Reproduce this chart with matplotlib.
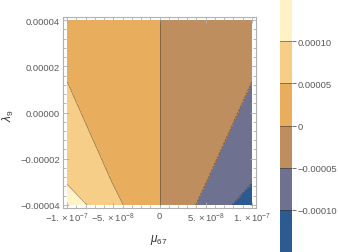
import numpy as np
import matplotlib
matplotlib.use("Agg")
import matplotlib.pyplot as plt
from matplotlib.ticker import MultipleLocator

plt.rcParams['font.family'] = ['Liberation Sans', 'DejaVu Sans']
plt.rcParams['mathtext.fontset'] = 'custom'
plt.rcParams['mathtext.rm'] = 'Liberation Sans'
plt.rcParams['mathtext.it'] = 'Liberation Sans:italic'

# grid nodes and values
mu = [-1e-7, 0.0, 1e-7]
lam = [-4e-5, -3e-5, 4e-5]
z = [[1.276e-4, 0.0, -1.276e-4],
     [9.67e-5, 0.0, -9.84e-5],
     [2.13e-5, 0.0, -2.02e-5]]

levels = [-1.5e-4, -1e-4, -5e-5, 0.0, 5e-5, 1e-4, 1.5e-4]
band_colors = ['#2b5b91', '#6e7190', '#bf8e5f', '#e9ad5e', '#f7ce87', '#fef2c6']

xticks = [-1e-7, -5e-8, 0.0, 5e-8, 1e-7]
xlabels = [r'$-1.\times10^{-7}$', r'$-5.\times10^{-8}$', '0',
           r'$5.\times10^{-8}$', r'$1.\times10^{-7}$']
yticks = [-4e-5, -2e-5, 0.0, 2e-5, 4e-5]
ylabels = ['\u22120.00004', '\u22120.00002', '0.00000', '0.00002', '0.00004']
cticks = [-1e-4, -5e-5, 0.0, 5e-5, 1e-4]
clabels = ['\u22120.00010', '\u22120.00005', '0', '0.00005', '0.00010']

grey = '#5a5a5a'
frame = '#b0b0b0'

fig = plt.figure(figsize=(3.38, 2.53), dpi=100)
ax = fig.add_axes([63/338, 44/253, 193/338, 191/253])

M, L = np.meshgrid(mu, lam)
Z = np.array(z)
cs = ax.contourf(M, L, Z, levels=levels, colors=band_colors)
ax.contour(M, L, Z, levels=levels[1:-1], colors='#3a2a1a', linewidths=0.5, alpha=0.6)

ax.set_xlim(-1.045e-7, 1.045e-7)
ax.set_ylim(-4.13e-5, 4.13e-5)
ax.set_xticks(xticks)
ax.set_xticklabels(xlabels, fontsize=6.8)
ax.set_yticks(yticks)
ax.set_yticklabels(ylabels, fontsize=6.8)
ax.xaxis.set_minor_locator(MultipleLocator(1e-8))
ax.yaxis.set_minor_locator(MultipleLocator(4e-6))
ax.tick_params(which='both', direction='in', top=True, right=True,
               color=frame, labelcolor=grey, width=0.6)
ax.tick_params(which='major', length=4, pad=2)
ax.tick_params(which='minor', length=2)
for s in ax.spines.values():
    s.set_color(frame)
    s.set_linewidth(0.8)

ax.set_xlabel(r'$\mu_{67}$', fontsize=8.5, color='#333333')
ax.xaxis.set_label_coords(0.497, -0.125)
ax.set_ylabel(r'$\lambda_{9}$', fontsize=8.5, color='#333333')
ax.yaxis.set_label_coords(-0.243, 0.49)

# legend bar
cax = fig.add_axes([280/338, 0.0, 12/338, 1.0])
cb = fig.colorbar(cs, cax=cax)
cb.outline.set_visible(False)
cb.set_ticks(cticks)
cb.set_ticklabels(clabels)
for v in cticks:
    cax.axhline(v, color='#3a2a1a', lw=0.6, alpha=0.6)
cax.tick_params(length=3, color=grey, labelcolor=grey, labelsize=6.8, width=0.6, pad=1)

fig.savefig('out.png', dpi=100)
